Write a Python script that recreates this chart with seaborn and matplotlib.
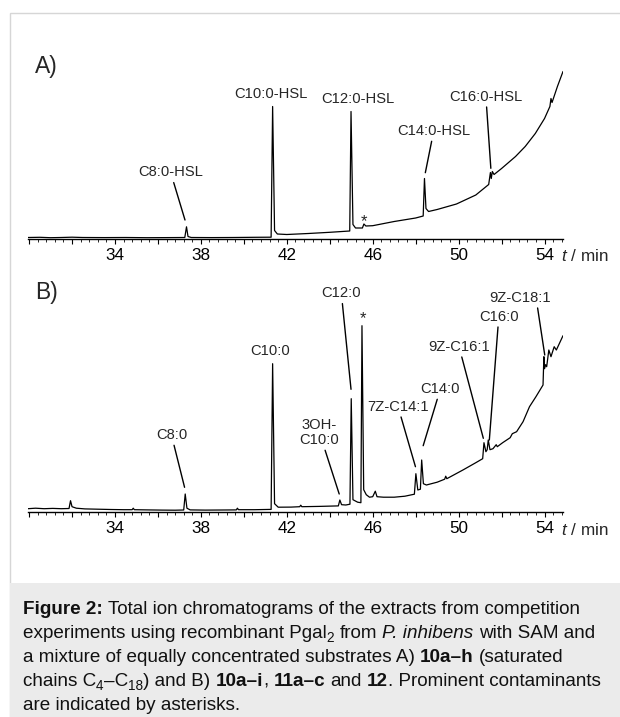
import numpy as np
import pandas as pd
import matplotlib
matplotlib.use("Agg")
import matplotlib.pyplot as plt
from matplotlib.ticker import MultipleLocator, FuncFormatter
from matplotlib.patches import Rectangle
from matplotlib.transforms import IdentityTransform
from matplotlib.font_manager import FontProperties
import seaborn as sns

# Chromatogram A (saturated HSL mixture): retention time (min) vs TIC (arbitrary units)
time_a = [29.95, 30.5, 31.0, 31.5, 32.0, 32.5, 33.5, 34.5, 35.5, 36.5, 37.25, 37.33, 37.4,
          37.55, 38.5, 39.5, 40.5, 41.27, 41.34, 41.43, 41.56, 42.0, 43.0, 44.0, 44.93,
          44.99, 45.08, 45.2, 45.52, 45.59, 45.68, 46.0, 47.0, 48.0, 48.35, 48.41, 48.48,
          48.6, 49.0, 49.9, 50.8, 51.4, 51.48, 51.52, 51.57, 51.65, 52.0, 52.65, 53.1,
          53.57, 54.0, 54.25, 54.3, 54.35, 54.6, 54.86]
tic_a = [1.0, 1.2, 0.8, 1.0, 1.3, 1.0, 0.9, 1.0, 0.8, 0.9, 1.0, 11.7, 2.0,
         1.0, 0.9, 1.0, 1.2, 1.3, 132, 8.0, 4.5, 4.0, 5.0, 6.2, 7.5,
         127, 14, 10.5, 10.5, 14.5, 12.5, 12.8, 17, 20.5, 22.5, 60, 30,
         27, 29, 34.5, 43.5, 54, 66, 60, 67, 64, 70, 82, 92,
         105, 120, 132, 140, 136, 152, 167]

# Chromatogram B (extended substrate mixture)
time_b = [29.95, 30.3, 30.7, 31.1, 31.5, 31.86, 31.93, 32.0, 32.2, 32.6, 33.2, 33.8, 34.4,
          34.8, 34.85, 34.9, 35.5, 36.2, 36.8, 37.2, 37.27, 37.35, 37.5, 38.2, 39.0, 39.65,
          39.7, 39.75, 40.5, 41.27, 41.34, 41.43, 41.6, 42.2, 42.6, 42.65, 42.7, 43.5,
          44.4, 44.47, 44.55, 44.75, 44.94, 45.0, 45.08, 45.3, 45.45, 45.5, 45.58, 45.7,
          45.85, 46.0, 46.12, 46.2, 46.5, 47.0, 47.5, 47.94, 48.01, 48.1, 48.22, 48.28,
          48.36, 48.5, 49.0, 49.35, 49.4, 49.45, 50.2, 50.8, 51.12, 51.18, 51.27, 51.33,
          51.38, 51.46, 51.6, 51.75, 51.8, 52.05, 52.4, 52.5, 52.7, 53.0, 53.3, 53.6,
          53.93, 53.97, 54.0, 54.05, 54.1, 54.2, 54.3, 54.45, 54.55, 54.86]
tic_b = [3.0, 3.5, 3.0, 3.3, 3.0, 3.2, 11, 5.0, 3.5, 2.8, 2.5, 2.2, 2.0,
         2.0, 3.5, 2.0, 1.8, 1.6, 1.5, 1.7, 17.7, 3.5, 1.8, 1.6, 1.7, 1.8,
         3.5, 2.0, 2.0, 2.3, 148, 8.0, 4.5, 4.6, 5.0, 6.5, 5.0, 5.3,
         5.8, 11.7, 7.0, 6.7, 7.5, 113, 12, 9.5, 9.0, 186, 22, 17,
         14.5, 15, 20.5, 15, 14.5, 14.5, 15.5, 17.5, 38, 21.7, 22.5, 51.7,
         28, 26.7, 29.5, 32.5, 35.5, 33, 41.7, 49, 53, 69, 60, 62,
         71.7, 62, 63, 67, 65, 69, 74, 78, 80, 90, 105, 115,
         126.7, 155, 143, 147, 145, 161.7, 155, 165, 161.7, 176]

# peak labels: text, label position (t, y), leader end (t, y) or None
labels_a = ["C8:0-HSL", "C10:0-HSL", "C12:0-HSL", "C14:0-HSL", "C16:0-HSL"]
label_pos_a = [(36.59, 66.2), (41.24, 144.2), (45.33, 139.5), (48.84, 107.5), (51.27, 141.8)]
leader_a = [(37.26, 18.5), None, None, (48.45, 65.8), (51.5, 70.2)]
star_a = (45.61, 12.8)

labels_b = ["C8:0", "C10:0", "3OH-\nC10:0", "C12:0", "7Z-C14:1", "C14:0",
            "9Z-C16:1", "C16:0", "9Z-C18:1"]
label_pos_b = [(36.63, 76.7), (41.21, 160.7), (43.52, 79.0), (44.54, 218.4), (47.18, 105.0),
               (49.15, 122.7), (50.02, 165.0), (51.87, 195.0), (52.88, 214.0)]
leader_b = [(37.24, 24.4), None, (44.44, 17.7), (44.99, 122.4), (47.99, 45.0),
            (48.35, 66.0), (51.15, 73.4), (51.43, 71.7), (54.01, 156.7)]
relpos_b = [None, None, None, None, None, None, None, None, (0.77, 0.0)]
star_b = (45.57, 188.3)

tick_labels = [34, 38, 42, 46, 50, 54]

# caption lines as (text, style) runs
caption = [
    [("Figure 2:", "bold"), (" Total ion chromatograms of the extracts from competition", "normal")],
    [("experiments using recombinant Pgal", "normal"), ("2", "sub"), (" from ", "normal"),
     ("P. inhibens", "italic"), (" with SAM and", "normal")],
    [("a mixture of equally concentrated substrates A) ", "normal"), ("10a–h", "bold"),
     (" (saturated", "normal")],
    [("chains C", "normal"), ("4", "sub"), ("–C", "normal"), ("18", "sub"),
     (") and B) ", "normal"), ("10a–i", "bold"), (", ", "normal"), ("11a–c", "bold"),
     (" and ", "normal"), ("12", "bold"), (". Prominent contaminants", "normal")],
    [("are indicated by asterisks.", "normal")],
]

sns.set_style("white")
plt.rcParams['font.family'] = ['Liberation Sans', 'DejaVu Sans']
plt.rcParams['mathtext.fontset'] = 'custom'
plt.rcParams['mathtext.rm'] = 'Liberation Sans'
plt.rcParams['mathtext.it'] = 'Liberation Sans:italic'

W, H = 620, 717
fig = plt.figure(figsize=(W / 100, H / 100), dpi=100)
fig.patch.set_facecolor('white')


def px(x0, y0, x1, y1):
    # pixel box (from top-left) -> figure fraction rect
    return [x0 / W, 1 - y1 / H, (x1 - x0) / W, (y1 - y0) / H]


# card border and caption box
fig.add_artist(Rectangle((9.5 / W, 0), 1, 1 - 12.5 / H, transform=fig.transFigure,
                         facecolor='white', edgecolor='#d6d6d6', lw=1.0, zorder=0))
fig.add_artist(Rectangle((10 / W, 0), 1, (H - 583) / H, transform=fig.transFigure,
                         facecolor='#ebebeb', edgecolor='none', zorder=0))


def style_axis(ax, ymax):
    ax.set_xlim(29.95, 54.86)
    ax.set_ylim(0, ymax)
    ax.patch.set_alpha(0)
    for s in ['top', 'left', 'right']:
        ax.spines[s].set_visible(False)
    ax.spines['bottom'].set_linewidth(1.0)
    ax.spines['bottom'].set_color('black')
    ax.set_yticks([])
    ax.xaxis.set_major_locator(MultipleLocator(2))
    ax.xaxis.set_minor_locator(MultipleLocator(0.4))
    ax.xaxis.set_major_formatter(FuncFormatter(
        lambda v, p: f"{v:.0f}" if round(v) in tick_labels else ""))
    ax.tick_params(axis='x', which='major', direction='out', length=3.5, width=0.8,
                   labelsize=12.3, pad=3, colors='black', bottom=True)
    ax.tick_params(axis='x', which='minor', direction='out', length=2, width=0.7,
                   bottom=True)
    ax.set_xlabel("")
    ax.set_ylabel("")


def add_labels(ax, names, pos, leaders, relpos=None):
    for i, name in enumerate(names):
        if leaders[i] is None:
            ax.text(pos[i][0], pos[i][1], name, ha='center', va='center',
                    fontsize=10.6, linespacing=1.05)
        else:
            props = dict(arrowstyle='-', color='black', lw=1.0, shrinkA=0, shrinkB=0)
            if relpos is not None and relpos[i] is not None:
                props['relpos'] = relpos[i]
            ax.annotate(name, xy=leaders[i], xytext=pos[i], ha='center', va='center',
                        fontsize=10.6, linespacing=1.05, arrowprops=props)


df_a = pd.DataFrame({"time": time_a, "tic": tic_a})
df_b = pd.DataFrame({"time": time_b, "tic": tic_b})

ax_a = fig.add_axes(px(28, 60, 563, 238.5))
sns.lineplot(data=df_a, x="time", y="tic", ax=ax_a, color='black', lw=0.9,
             sort=False, estimator=None)
style_axis(ax_a, 178.5)
add_labels(ax_a, labels_a, label_pos_a, leader_a)
ax_a.text(star_a[0], star_a[1], "*", ha='center', va='baseline', fontsize=12)

ax_b = fig.add_axes(px(28, 300, 563, 511.7))
sns.lineplot(data=df_b, x="time", y="tic", ax=ax_b, color='black', lw=0.9,
             sort=False, estimator=None)
style_axis(ax_b, 211.7)
add_labels(ax_b, labels_b, label_pos_b, leader_b, relpos_b)
ax_b.text(star_b[0], star_b[1], "*", ha='center', va='baseline', fontsize=12)

# panel letters and axis units
fig.text(35 / W, 1 - 66 / H, "A)", fontsize=16.5, ha='left', va='center')
fig.text(35 / W, 1 - 293 / H, "B)", fontsize=16.5, ha='left', va='center')
fig.text(561 / W, 1 - 256 / H, r"$t$ / min", fontsize=12.3, ha='left', va='center')
fig.text(561 / W, 1 - 530 / H, r"$t$ / min", fontsize=12.3, ha='left', va='center')

# caption, drawn run by run
renderer = fig.canvas.get_renderer()
cap_size = 13.6


def run_props(style):
    size = cap_size * 0.72 if style == "sub" else cap_size
    weight = 'bold' if style == "bold" else 'normal'
    fstyle = 'italic' if style == "italic" else 'normal'
    return FontProperties(family='Liberation Sans', size=size, weight=weight, style=fstyle)


def text_w(s, prop):
    w, _, _ = renderer.get_text_width_height_descent(s, prop, ismath=False)
    return w


for i, line in enumerate(caption):
    x = 23.0
    base = H - (613.5 + 24 * i)
    for txt, style in line:
        prop = run_props(style)
        bar = text_w("||", prop)
        space = text_w("| |", prop) - bar
        lead = len(txt) - len(txt.lstrip(" "))
        trail = len(txt) - len(txt.rstrip(" "))
        core = txt.strip(" ")
        x += lead * space
        y = base - (4 if style == "sub" else 0)
        fig.text(x, y, core, fontproperties=prop, ha='left', va='baseline',
                 color='#111111', transform=IdentityTransform())
        x += text_w("|" + core + "|", prop) - bar + trail * space

fig.savefig("out.png", dpi=100)
